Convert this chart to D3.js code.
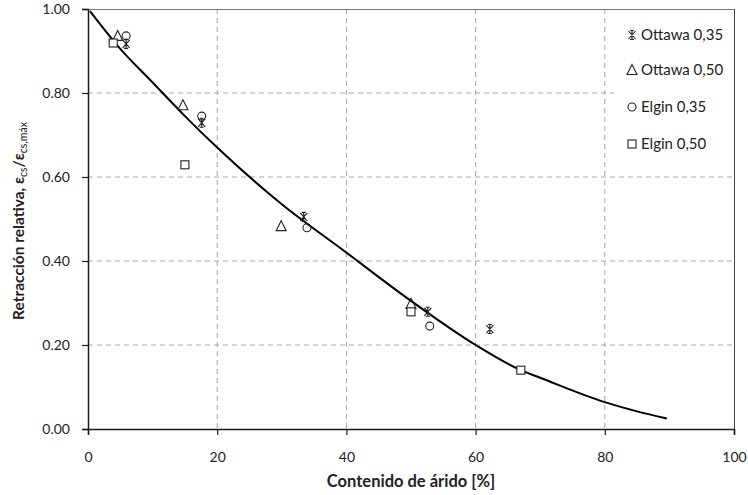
<!DOCTYPE html>
<html>
<head>
<meta charset="utf-8">
<script src="https://cdn.jsdelivr.net/npm/d3@7"></script>
<style>
  html, body { margin: 0; padding: 0; background: #fff; }
  svg { display: block; font-family: Lato, "Open Sans", sans-serif; }
</style>
</head>
<body>
<svg id="chart" width="748" height="495"></svg>
<script>
// Aggregate content (%) vs relative shrinkage for each mix
const ottawa035 = [[5.9, 0.917], [17.6, 0.729], [33.4, 0.505], [52.6, 0.279], [62.2, 0.238]];
const ottawa050 = [[4.6, 0.936], [14.7, 0.771], [29.9, 0.483], [50.0, 0.298]];
const elgin035  = [[5.9, 0.936], [17.6, 0.745], [33.9, 0.479], [52.9, 0.245]];
const elgin050  = [[3.9, 0.919], [15.0, 0.629], [50.0, 0.279], [67.0, 0.140]];

// Fitted trend curve
const curveX = [0.3, 5, 10, 15, 20, 30, 40, 50, 60, 67, 70, 80, 85, 89.6];
const curveY = [0.995, 0.905, 0.825, 0.745, 0.67, 0.535, 0.42, 0.305, 0.20, 0.14, 0.122, 0.064, 0.042, 0.025];

const xTicks = [0, 20, 40, 60, 80, 100];
const yTicks = [0, 0.2, 0.4, 0.6, 0.8, 1.0];
const xTickLabels = ["0", "20", "40", "60", "80", "100"];
const yTickLabels = ["0.00", "0.20", "0.40", "0.60", "0.80", "1.00"];

const seriesNames = ["Ottawa 0,35", "Ottawa 0,50", "Elgin 0,35", "Elgin 0,50"];
const seriesData = [ottawa035, ottawa050, elgin035, elgin050];
const seriesShapes = ["star", "triangle", "circle", "square"];

const svg = d3.select("#chart");
const plotL = 88, plotR = 734, plotT = 9, plotB = 429;
const x = d3.scaleLinear().domain([0, 100]).range([plotL, plotR]);
const y = d3.scaleLinear().domain([0, 1]).range([plotB, plotT]);
const ink = "#1a1a1a";

// Grid
const grid = svg.append("g");
grid.selectAll("line.gx").data(xTicks.slice(1, -1)).enter().append("line")
  .attr("x1", d => x(d)).attr("x2", d => x(d)).attr("y1", plotT).attr("y2", plotB)
  .attr("stroke", "#a8a8a8").attr("stroke-width", 1).attr("stroke-dasharray", "5,4");
grid.selectAll("line.gy").data(yTicks.slice(1, -1)).enter().append("line")
  .attr("x1", plotL).attr("x2", plotR).attr("y1", d => y(d)).attr("y2", d => y(d))
  .attr("stroke", "#a8a8a8").attr("stroke-width", 1).attr("stroke-dasharray", "5,4");

// Frame top / right
svg.append("line").attr("x1", plotL).attr("x2", plotR).attr("y1", plotT + 0.5).attr("y2", plotT + 0.5)
  .attr("stroke", "#777").attr("stroke-width", 1);
svg.append("line").attr("x1", plotR + 0.5).attr("x2", plotR + 0.5).attr("y1", plotT).attr("y2", plotB)
  .attr("stroke", "#444").attr("stroke-width", 1);

// Axes
const xAxis = d3.axisBottom(x).tickValues(xTicks).tickSize(6).tickPadding(17)
  .tickFormat((d, i) => xTickLabels[i]);
const yAxis = d3.axisLeft(y).tickValues(yTicks).tickSize(6).tickPadding(12)
  .tickFormat((d, i) => yTickLabels[i]);

const gx = svg.append("g").attr("transform", `translate(0,${plotB})`).call(xAxis);
const gy = svg.append("g").attr("transform", `translate(${plotL},0)`).call(yAxis);
[gx, gy].forEach(g => {
  g.select(".domain").attr("stroke", ink).attr("stroke-width", 1.5);
  g.selectAll(".tick line").attr("stroke", ink).attr("stroke-width", 1.2);
  g.selectAll(".tick text").attr("fill", "#222").attr("font-size", 14)
    .attr("font-family", "Lato, sans-serif");
});

// Legend background
const lg = svg.append("g");
lg.append("rect").attr("x", 614).attr("y", plotT + 1).attr("width", plotR - 614).attr("height", 152)
  .attr("fill", "#fff");

// Trend curve
const curvePts = curveX.map((d, i) => [d, curveY[i]]);
svg.append("path").datum(curvePts)
  .attr("d", d3.line().x(d => x(d[0])).y(d => y(d[1])).curve(d3.curveMonotoneX))
  .attr("fill", "none").attr("stroke", "#000").attr("stroke-width", 2);

function drawMarker(g, shape) {
  const st = "#222", sw = 1.1;
  if (shape === "square") {
    g.append("rect").attr("x", -4).attr("y", -4).attr("width", 8).attr("height", 8)
      .attr("fill", "#fff").attr("stroke", st).attr("stroke-width", sw);
  } else if (shape === "circle") {
    g.append("circle").attr("r", 4)
      .attr("fill", "none").attr("stroke", st).attr("stroke-width", sw);
  } else if (shape === "triangle") {
    g.append("path").attr("d", "M0,-5.5L5,4.5L-5,4.5Z")
      .attr("fill", "none").attr("stroke", st).attr("stroke-width", sw);
  } else {
    g.append("path").attr("d", "M-3.5,-4L3.5,4M3.5,-4L-3.5,4M0,-4.5L0,4.5M-2,-4.5L2,-4.5M-2,4.5L2,4.5")
      .attr("fill", "none").attr("stroke", st).attr("stroke-width", sw);
  }
}

// Data markers
seriesData.forEach((data, si) => {
  const g = svg.append("g");
  data.forEach(p => {
    const m = g.append("g").attr("transform", `translate(${x(p[0])},${y(p[1])})`);
    drawMarker(m, seriesShapes[si]);
  });
});

// Legend entries
const legendYs = [35, 70, 107, 144];
seriesNames.forEach((name, i) => {
  const m = lg.append("g").attr("transform", `translate(632,${legendYs[i]})`);
  drawMarker(m, seriesShapes[i]);
  lg.append("text").attr("x", 641).attr("y", legendYs[i] + 5)
    .attr("font-size", 15).attr("fill", "#222").text(name);
});

// Axis titles
svg.append("text").attr("x", 411).attr("y", 487).attr("text-anchor", "middle")
  .attr("font-size", 16.5).attr("font-weight", "bold").attr("fill", "#222")
  .text("Contenido de árido [%]");

const yt = svg.append("text").attr("transform", "translate(24,221) rotate(-90)")
  .attr("text-anchor", "middle").attr("font-size", 15.5).attr("font-weight", "bold").attr("fill", "#222");
yt.append("tspan").text("Retracción relativa, ε");
yt.append("tspan").attr("font-size", 10.5).attr("font-weight", "normal").attr("dy", 3).text("cs");
yt.append("tspan").attr("dy", -3).text("/ε");
yt.append("tspan").attr("font-size", 10.5).attr("font-weight", "normal").attr("dy", 3).text("cs,máx");
</script>
</body>
</html>
